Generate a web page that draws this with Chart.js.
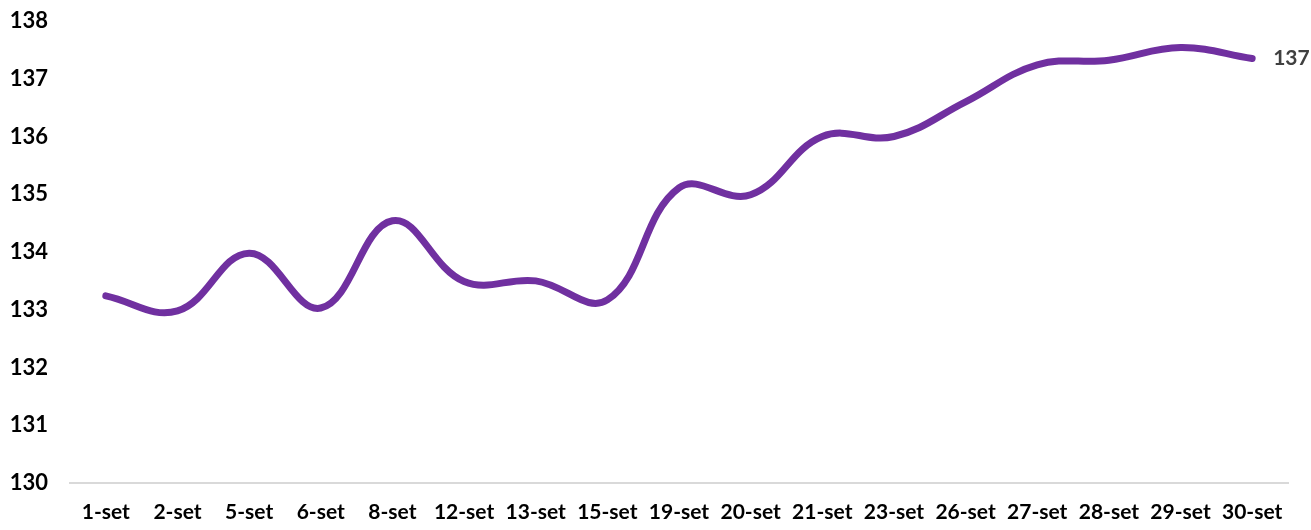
<!DOCTYPE html>
<html>
<head>
<meta charset="utf-8">
<script src="https://cdn.jsdelivr.net/npm/chart.js@4"></script>
<style>
  html, body { margin: 0; padding: 0; background: #fff; }
  #wrap { width: 1311px; height: 530px; }
</style>
</head>
<body>
<div id="wrap"><canvas id="chart"></canvas></div>
<script>
const days = ["1-set", "2-set", "5-set", "6-set", "8-set", "12-set", "13-set", "15-set", "19-set",
  "20-set", "21-set", "23-set", "26-set", "27-set", "28-set", "29-set", "30-set"];
const values = [133.24, 132.98, 133.98, 133.03, 134.54, 133.49, 133.5, 133.17, 135.11,
  134.99, 136.0, 136.0, 136.6, 137.24, 137.32, 137.54, 137.35];
const yTicks = [130, 131, 132, 133, 134, 135, 136, 137, 138];

// last value label, drawn to the right of the final point
const lastLabel = {
  id: "lastLabel",
  afterDatasetsDraw(chart) {
    const meta = chart.getDatasetMeta(0);
    const pt = meta.data[meta.data.length - 1];
    const ctx = chart.ctx;
    ctx.save();
    ctx.font = "bold 21px Lato";
    ctx.fillStyle = "#404040";
    ctx.textAlign = "left";
    ctx.textBaseline = "middle";
    ctx.fillText(Math.round(values[values.length - 1]), pt.x + 21, pt.y);
    ctx.restore();
  }
};

new Chart(document.getElementById("chart"), {
  type: "line",
  data: {
    labels: days,
    datasets: [{
      data: values,
      borderColor: "#7030A0",
      borderWidth: 7,
      borderCapStyle: "round",
      tension: 0.4,
      pointRadius: 0,
      fill: false
    }]
  },
  options: {
    responsive: true,
    maintainAspectRatio: false,
    animation: false,
    layout: { padding: { top: 21, right: 23, left: 0, bottom: 0 } },
    plugins: { legend: { display: false }, tooltip: { enabled: false } },
    scales: {
      x: {
        offset: true,
        afterFit(axis) { axis.height = 47; },
        grid: { display: false, drawTicks: false },
        border: { display: true, color: "#d9d9d9", width: 2 },
        ticks: { color: "#000", font: { family: "Lato", size: 21, weight: "bold" }, padding: 17, maxRotation: 0, autoSkip: false }
      },
      y: {
        min: 130,
        max: 138,
        afterBuildTicks(axis) { axis.ticks = yTicks.map(v => ({ value: v })); },
        afterFit(axis) {
          axis.width = 70;
          axis.paddingTop = 0;
          axis.paddingBottom = 0;
        },
        grid: { display: false, drawTicks: false },
        border: { display: false },
        ticks: { color: "#000", font: { family: "Lato", size: 22, weight: "bold" }, padding: 22 }
      }
    }
  },
  plugins: [lastLabel]
});
</script>
</body>
</html>
